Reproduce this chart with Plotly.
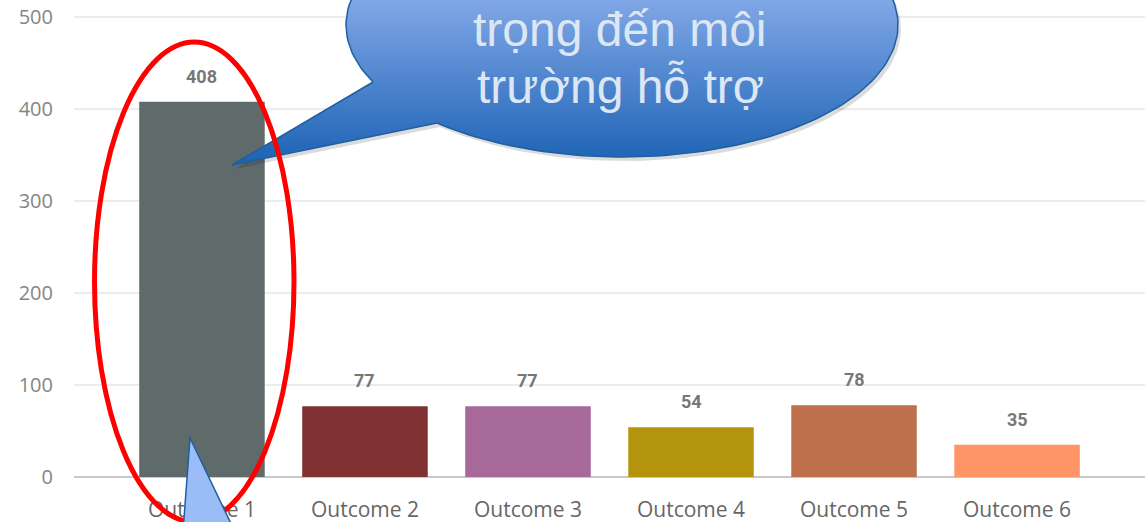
import numpy as np
import plotly.graph_objects as go

categories = ["Outcome 1", "Outcome 2", "Outcome 3", "Outcome 4", "Outcome 5", "Outcome 6"]
values = [408, 77, 77, 54, 78, 35]
bar_colors = ["#5f6a6a", "#7f3131", "#a66999", "#b5940d", "#be704c", "#fd9566"]
y_ticks = [0, 100, 200, 300, 400, 500]
bubble_lines = ["trọng đến môi", "trường hỗ trợ"]

W, H = 1145, 522
L, B = 74, 45          # plot area left / bottom margin in px
PW, PH = W - L, H - B


def px(x, y):
    # pixel position -> paper coords (callout graphics only)
    return (x - L) / PW, (H - B - y) / PH


fig = go.Figure()

fig.add_trace(go.Bar(
    x=categories,
    y=values,
    marker=dict(color=bar_colors, line=dict(width=0)),
    width=0.77,
    hoverinfo="x+y",
    showlegend=False
))

# value labels above bars
for cat, val in zip(categories, values):
    fig.add_annotation(
        x=cat, y=val, xref="x", yref="y",
        text=str(val), showarrow=False,
        yanchor="bottom", yshift=13,
        font=dict(family="Roboto", size=18, color="#777777", weight="bold")
    )

# speech bubble, drawn on an overlay axis pair in pixel units
cx, cy, rx, ry = 622, 25, 276, 132
t_a = np.arctan2((82 - cy) / ry, (373 - cx) / rx)
t_b = np.arctan2((123 - cy) / ry, (437 - cx) / rx) + 2 * np.pi
t = np.linspace(t_a, t_b, 200)
bx = list(cx + rx * np.cos(t)) + [232, cx + rx * np.cos(t_a)]
by = list(cy + ry * np.sin(t)) + [165, cy + ry * np.sin(t_a)]

fig.add_trace(go.Scatter(
    x=[v + 3 for v in bx], y=[v + 4 for v in by],
    xaxis="x2", yaxis="y2", mode="lines", fill="toself",
    fillcolor="rgba(0,0,0,0.14)", line=dict(width=0),
    hoverinfo="skip", showlegend=False
))
fig.add_trace(go.Scatter(
    x=bx, y=by, xaxis="x2", yaxis="y2", mode="lines", fill="toself",
    fillgradient=dict(type="vertical", start=-107, stop=165,
                      colorscale=[[0, "#a2c2f6"], [0.4, "#7fa6e6"], [1, "#1c62b4"]]),
    line=dict(color="#1f5fa0", width=1.5),
    hoverinfo="skip", showlegend=False
))

for text, yy in zip(bubble_lines, [29, 86]):
    fig.add_annotation(
        x=620, y=yy, xref="x2", yref="y2", text=text, showarrow=False,
        xanchor="center", yanchor="middle",
        font=dict(family="Liberation Sans", size=48, color="#dde7f3")
    )

# red ellipse around the first bar
e0 = px(94.5, 522)
e1 = px(294, 42)
fig.add_shape(type="circle", xref="paper", yref="paper",
              x0=e0[0], y0=e0[1], x1=e1[0], y1=e1[1],
              line=dict(color="#ff0000", width=5), layer="above")

# light blue pointer from below
p = [px(190, 438), px(183, 532), px(235, 532)]
path = "M {},{} L {},{} L {},{} Z".format(p[0][0], p[0][1], p[1][0], p[1][1], p[2][0], p[2][1])
fig.add_shape(type="path", xref="paper", yref="paper", path=path,
              fillcolor="#9bbdf7", line=dict(color="#1f5fa0", width=1.5), layer="above")

fig.update_layout(
    width=W, height=H,
    margin=dict(l=L, r=0, t=0, b=B),
    plot_bgcolor="white", paper_bgcolor="white",
    bargap=0.23,
    xaxis=dict(
        range=[-0.785, 5.785], showgrid=False, zeroline=False, showline=False,
        ticks="", ticklabelstandoff=18, automargin=False,
        tickfont=dict(family="Open Sans", size=21, color="#666666"),
        fixedrange=True
    ),
    yaxis=dict(
        range=[0, 518.5], tickvals=y_ticks,
        showgrid=True, gridcolor="#ececec", gridwidth=1.5,
        zeroline=True, zerolinecolor="#c8c8c8", zerolinewidth=2,
        showline=False, ticks="", ticklabelstandoff=20, automargin=False,
        tickfont=dict(family="Open Sans", size=20, color="#858585"),
        fixedrange=True
    ),
    xaxis2=dict(range=[L, W], overlaying="x", visible=False, fixedrange=True),
    yaxis2=dict(range=[H - B, 0], overlaying="y", visible=False, fixedrange=True),
)

# the page body has a default 8px margin; drop it so the chart sits at 0,0
fig.write_html("out.html", config={"displayModeBar": False},
               post_script="document.body.style.margin='0';")
